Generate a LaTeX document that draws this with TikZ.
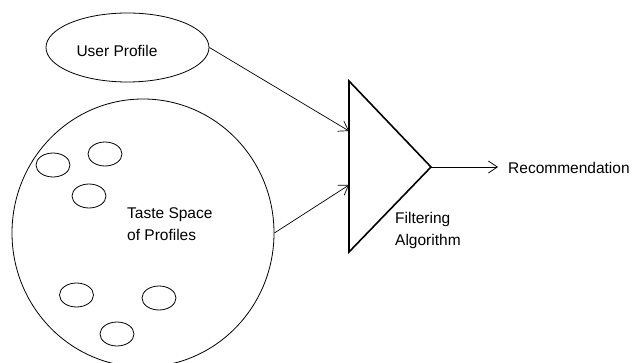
\documentclass[tikz,border=0pt]{standalone}
\usepackage{fontspec}
\setmainfont{Liberation Sans}
\usetikzlibrary{shapes.geometric,arrows.meta}
\begin{document}
\begin{tikzpicture}[x=1pt,y=-1pt,
  lbl/.style={font=\fontsize{15.5}{22}\selectfont, inner sep=0pt},
  oval/.style={draw, ellipse, line width=0.8pt, inner sep=0pt},
  blob/.style={draw, ellipse, line width=0.8pt, inner sep=0pt, minimum width=34pt, minimum height=24pt},
  flow/.style={draw, line width=0.7pt, -{Straight Barb[length=9pt,width=12pt,line width=0.7pt]}}
]
\useasboundingbox (0,0) rectangle (634,363);
\clip (0,0) rectangle (634,363);

% user profile oval
\node[oval, minimum width=163pt, minimum height=69pt] (up) at (127.5,47.5) {};
\node[lbl] (uptext) at (117,51) {User Profile};

% taste space oval with sample profiles
\node[oval, minimum width=262pt, minimum height=268pt] (taste) at (143,233) {};
\node[blob] (p1) at (53,165) {};
\node[blob] (p2) at (105,154) {};
\node[blob] (p3) at (89,196) {};
\node[blob] (p4) at (76.5,295) {};
\node[blob] (p5) at (159,298) {};
\node[blob] (p6) at (117,334) {};
\node[lbl, align=left, anchor=west] (tastetext) at (127,224.5) {Taste Space\\of Profiles};

% filtering triangle
\coordinate (ttop) at (349,81);
\coordinate (tbot) at (349,252);
\coordinate (tapex) at (431,167);
\coordinate (in1) at (349,131);
\coordinate (in2) at (349,185);
\draw[line width=1.6pt, line join=miter] (ttop) -- (tapex) -- (tbot) -- cycle;
\node[lbl, align=left, anchor=west] (filttext) at (395,230.5) {Filtering\\Algorithm};

% output
\coordinate (out) at (498,167);
\node[lbl, anchor=west] (rec) at (508,168) {Recommendation};

% connectors
\draw[flow] (up.east) -- (in1);
\draw[flow] (taste.east) -- (in2);
\draw[flow] (tapex) -- (out);
\end{tikzpicture}
\end{document}
